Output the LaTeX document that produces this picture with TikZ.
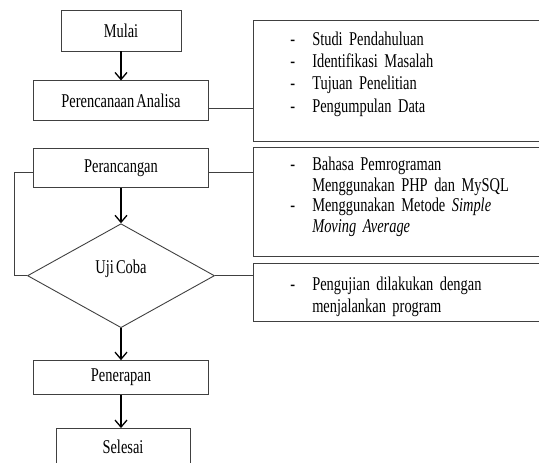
\documentclass[tikz,border=0pt]{standalone}
\usepackage{fontspec}
\setmainfont{Liberation Serif}[FakeStretch=0.74,WordSpace=0.6]
\usepackage{xcolor}
\usetikzlibrary{positioning,arrows.meta,shapes.geometric}

\begin{document}
\begin{tikzpicture}[
    x=1pt, y=-1pt,
    font=\fontsize{19.5}{23}\selectfont,
    >={Straight Barb[length=7pt,width=12pt]},
    block/.style={draw=black!75, line width=0.9pt, rectangle, align=center, minimum width=175pt, inner sep=0pt},
    decision/.style={draw=black!75, line width=0.9pt, diamond, minimum width=187pt, minimum height=104pt, inner sep=0pt},
    ket/.style={draw=black!75, line width=0.9pt, rectangle, anchor=west, minimum width=300pt, text width=300pt, inner xsep=0pt, align=left},
    arrow/.style={->, line width=1.3pt},
    garis/.style={draw=black!75, line width=0.9pt}
]
\useasboundingbox (0,0) rectangle (539,463);

% Mulai
\node[block, minimum width=120pt, minimum height=41pt] (mulai) at (121,30.5) {Mulai};

% Perencanaan Analisa
\node[block, minimum height=40pt, below=29pt of mulai] (analisa) {Perencanaan Analisa};

% Perancangan
\node[block, minimum height=39pt, below=27pt of analisa] (rancang) {Perancangan};

% Uji Coba
\node[decision, below=35pt of rancang] (uji) {\raisebox{17pt}{Uji Coba}};

% Penerapan
\node[block, minimum height=34pt, below=32pt of uji] (terap) {Penerapan};

% Selesai
\node[block, minimum width=134pt, minimum height=37pt, below=33pt of terap, xshift=2pt] (selesai) {Selesai};

% Keterangan kanan
\node[ket, minimum height=121pt] (ket1) at (253,80.5) {%
\raisebox{1pt}[0pt][0pt]{\renewcommand\arraystretch{0.97}%
\begin{tabular}{@{\hspace*{37pt}}c@{\hspace{17pt}}l@{}}
- & Studi Pendahuluan\\
- & Identifikasi Masalah\\
- & Tujuan Penelitian\\
- & Pengumpulan Data
\end{tabular}}};

\node[ket, minimum height=109pt] (ket2) at (253,201.5) {%
\raisebox{-1pt}[0pt][0pt]{\renewcommand\arraystretch{0.91}%
\begin{tabular}{@{\hspace*{37pt}}c@{\hspace{17pt}}l@{}}
- & Bahasa Pemrograman\\
  & Menggunakan PHP dan MySQL\\
- & Menggunakan Metode \textit{Simple}\\
  & \textit{Moving Average}
\end{tabular}}};

\node[ket, minimum height=58pt] (ket3) at (253,292) {%
\raisebox{-10pt}[0pt][0pt]{\renewcommand\arraystretch{0.96}%
\begin{tabular}{@{\hspace*{37pt}}c@{\hspace{17pt}}l@{}}
- & Pengujian dilakukan dengan\\
  & menjalankan program
\end{tabular}}};

% Panah alur
\draw[arrow] (mulai.south) -- (analisa.north);
\draw[arrow] (rancang.south) -- (uji.north);
\draw[arrow] (uji.south) -- (terap.north);
\draw[arrow] (terap.south) -- (selesai.north -| terap.south);

% Garis ke keterangan
\draw[garis] ([yshift=-8pt]analisa.east) -- ([yshift=-8pt]analisa.east -| ket1.west);
\draw[garis] ([yshift=-4.5pt]rancang.east) -- ([yshift=-4.5pt]rancang.east -| ket2.west);
\draw[garis] (uji.east) -- (uji.east -| ket3.west);

% Perulangan uji coba ke perancangan
\draw[garis] ([yshift=-4.5pt]rancang.west) -| ([xshift=-13pt]uji.west) -- (uji.west);

\end{tikzpicture}
\end{document}
